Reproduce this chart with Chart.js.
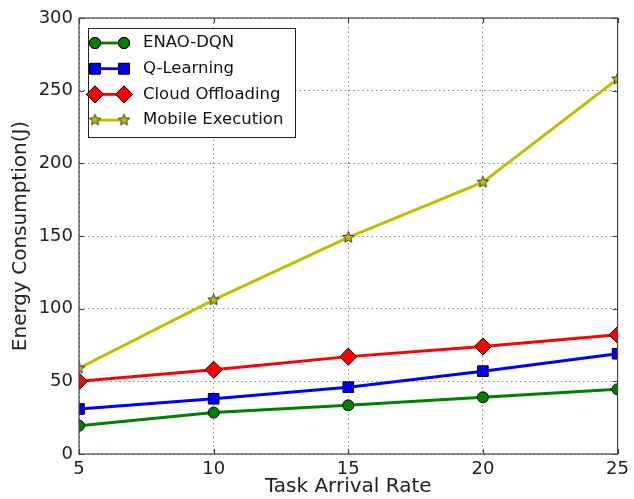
<!DOCTYPE html>
<html>
<head>
<meta charset="utf-8">
<script src="https://cdn.jsdelivr.net/npm/chart.js@4/dist/chart.umd.min.js"></script>
<style>
  html, body { margin: 0; padding: 0; background: #fff; }
  #wrap { width: 634px; height: 499px; }
</style>
</head>
<body>
<div id="wrap"><canvas id="myChart" width="634" height="499"></canvas></div>
<script>
const rates = [5, 10, 15, 20, 25];
const enaoDqn = [19.5, 28.5, 33.5, 39, 44.5];
const qLearning = [31, 38, 46, 57, 69];
const cloudOffloading = [50, 58, 67, 74, 82];
const mobileExecution = [59, 106, 149, 187, 258];
const yTicks = [0, 50, 100, 150, 200, 250, 300];
const xTicks = [5, 10, 15, 20, 25];

const FONT = "'DejaVu Sans', sans-serif";

// filled star marker, chart.js' own star is outline only
function makeStar(r) {
  const c = document.createElement('canvas');
  const s = Math.ceil(r * 2 + 3);
  c.width = s; c.height = s;
  const g = c.getContext('2d');
  const cx = s / 2, cy = s / 2;
  g.beginPath();
  for (let i = 0; i < 10; i++) {
    const rr = i % 2 === 0 ? r : r * 0.45;
    const a = -Math.PI / 2 + i * Math.PI / 5;
    const px = cx + rr * Math.cos(a), py = cy + rr * Math.sin(a);
    if (i === 0) g.moveTo(px, py); else g.lineTo(px, py);
  }
  g.closePath();
  g.fillStyle = '#bfbf00';
  g.fill();
  g.lineWidth = 1;
  g.strokeStyle = '#333';
  g.stroke();
  return c;
}
const starImg = makeStar(6);

const series = [
  { label: 'ENAO-DQN', data: enaoDqn, color: '#008000', style: 'circle', radius: 5.5 },
  { label: 'Q-Learning', data: qLearning, color: '#0000ff', style: 'rect', radius: 7.5 },
  { label: 'Cloud Offloading', data: cloudOffloading, color: '#ff0000', style: 'rectRot', radius: 8.5 },
  { label: 'Mobile Execution', data: mobileExecution, color: '#bfbf00', style: starImg, radius: 6 }
];

const frame = {
  id: 'frame',
  afterDraw(chart) {
    const { ctx, chartArea: a, scales: { x, y } } = chart;
    ctx.save();
    ctx.strokeStyle = '#444';
    ctx.lineWidth = 1.2;
    ctx.strokeRect(a.left, a.top, a.right - a.left, a.bottom - a.top);
    // inward ticks
    ctx.beginPath();
    xTicks.forEach(v => {
      const px = Math.round(x.getPixelForValue(v)) + 0.5;
      ctx.moveTo(px, a.bottom); ctx.lineTo(px, a.bottom - 5);
      ctx.moveTo(px, a.top); ctx.lineTo(px, a.top + 5);
    });
    yTicks.forEach(v => {
      const py = Math.round(y.getPixelForValue(v)) + 0.5;
      ctx.moveTo(a.left, py); ctx.lineTo(a.left + 5, py);
      ctx.moveTo(a.right, py); ctx.lineTo(a.right - 5, py);
    });
    ctx.stroke();

    // legend inside plot, upper left
    const bx = a.left + 9, by = a.top + 10, bw = 207, bh = 109;
    ctx.fillStyle = '#fff';
    ctx.fillRect(bx, by, bw, bh);
    ctx.strokeStyle = '#222';
    ctx.lineWidth = 1;
    ctx.strokeRect(bx + 0.5, by + 0.5, bw, bh);
    ctx.font = '16.5px ' + FONT;
    ctx.textBaseline = 'middle';
    series.forEach((s, i) => {
      const ry = by + 15 + i * 25.7;
      const x1 = bx + 7, x2 = bx + 36;
      ctx.strokeStyle = s.color;
      ctx.lineWidth = 2.8;
      ctx.beginPath(); ctx.moveTo(x1, ry); ctx.lineTo(x2, ry); ctx.stroke();
      [x1, x2].forEach(mx => {
        if (typeof s.style !== 'string') {
          ctx.drawImage(s.style, mx - s.style.width / 2, ry - s.style.height / 2);
        } else {
          ctx.fillStyle = s.color;
          ctx.strokeStyle = '#000';
          ctx.lineWidth = 1;
          Chart.helpers.drawPoint(ctx, { pointStyle: s.style, radius: s.radius, rotation: 0, borderWidth: 1 }, mx, ry);
          ctx.fill();
          ctx.stroke();
        }
      });
      ctx.fillStyle = '#111';
      ctx.fillText(s.label, bx + 55, ry);
    });
    ctx.restore();
  }
};

const ctx = document.getElementById('myChart').getContext('2d');
new Chart(ctx, {
  type: 'line',
  data: {
    datasets: series.map(s => ({
      label: s.label,
      data: rates.map((r, i) => ({ x: r, y: s.data[i] })),
      borderColor: s.color,
      backgroundColor: s.color,
      borderWidth: 3,
      pointStyle: s.style,
      pointRadius: s.radius,
      pointBorderColor: '#000',
      pointBorderWidth: 1,
      pointBackgroundColor: s.color,
      tension: 0,
      clip: 0
    }))
  },
  options: {
    responsive: false,
    animation: false,
    layout: { padding: { top: 18, right: 12, left: 0, bottom: 0 } },
    plugins: { legend: { display: false }, tooltip: { enabled: false } },
    scales: {
      x: {
        type: 'linear',
        min: 5, max: 25,
        afterBuildTicks: s => { s.ticks = xTicks.map(v => ({ value: v })); },
        afterFit: s => { s.height = 45; },
        grid: { color: '#888', lineWidth: 1, drawTicks: false },
        border: { display: false, dash: [1.5, 3] },
        ticks: { color: '#222', font: { family: FONT, size: 18 }, padding: 5, maxRotation: 0 },
        title: { display: true, text: 'Task Arrival Rate', color: '#222', font: { family: FONT, size: 20 }, padding: { top: 0, bottom: 0 } }
      },
      y: {
        min: 0, max: 300,
        afterBuildTicks: s => { s.ticks = yTicks.map(v => ({ value: v })); },
        afterFit: s => { s.width = 79; },
        grid: { color: '#888', lineWidth: 1, drawTicks: false },
        border: { display: false, dash: [1.5, 3] },
        ticks: { color: '#222', font: { family: FONT, size: 18 }, padding: 6 },
        title: { display: true, text: 'Energy Consumption(J)', color: '#222', font: { family: FONT, size: 20 }, padding: { top: 9, bottom: 0 } }
      }
    }
  },
  plugins: [frame]
});
</script>
</body>
</html>
